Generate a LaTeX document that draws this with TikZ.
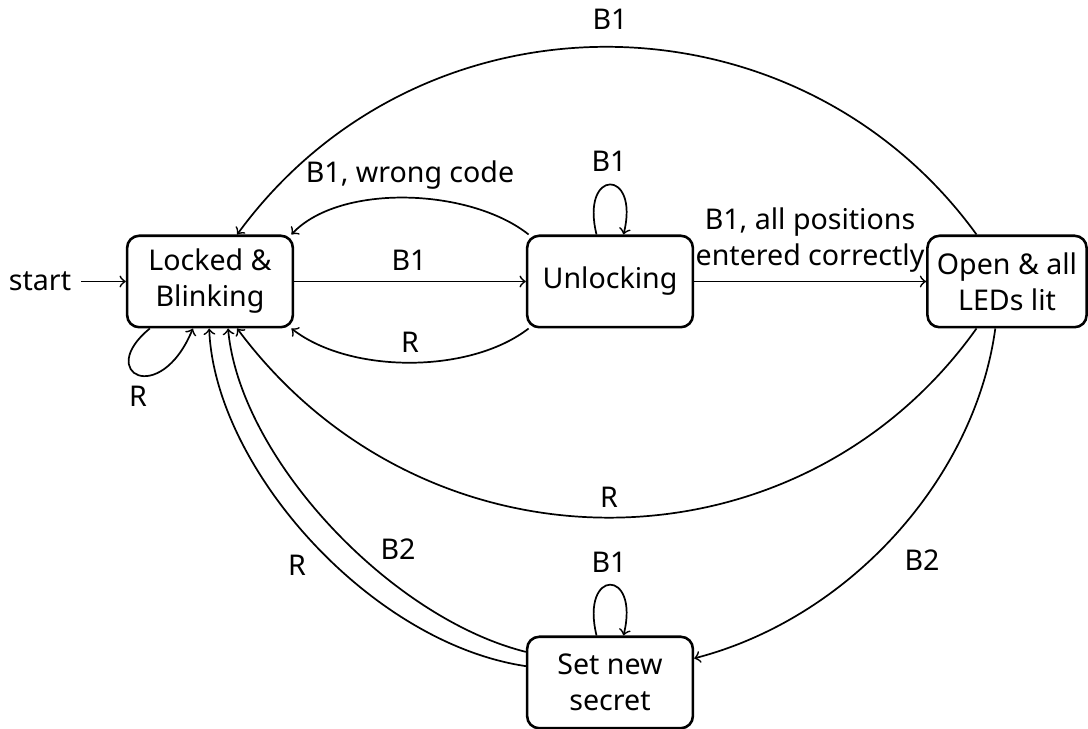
\documentclass[tikz,border=0pt]{standalone}
\usepackage{fontspec}
\setmainfont{Noto Sans}
\begin{document}
\begin{tikzpicture}[x=0.35pt, y=0.35pt,
  txt/.style={font=\fontsize{10pt}{12.6pt}\selectfont},
  state/.style={txt, draw, rectangle, rounded corners=4.2pt, line width=0.9pt,
    minimum width=58pt, minimum height=32pt, align=center, inner sep=0pt},
  edge/.style={->, line width=0.6pt},
  lbl/.style={txt, inner sep=0pt, anchor=base}]
\useasboundingbox (0,0) rectangle (1088,728);

% states
\node[state] (lock) at (210,446.5) {Locked \&\\Blinking};
\node[state] (unl)  at (610,446.5) {Unlocking};
\node[state, minimum width=55.7pt] (open) at (1007,446.5) {Open \& all\\LEDs lit};
\node[state] (sec)  at (610,45.5) {Set new\\secret};
\node[txt] (start) at (40,446.5) {start};

% transitions
\draw[edge] (start) -- (lock);
\draw[edge] (lock) -- (unl);
\draw[edge] (unl) -- (open);
\draw[edge] (unl.150) .. controls (470,540) and (340,545) .. (lock.30);
\draw[edge] (unl.-150) .. controls (470,354) and (350,354) .. (lock.-30);
\draw[edge] (unl.106) .. controls (580,560) and (640,560) .. (unl.74);
\draw[edge] (open.123) .. controls (797,741) and (422,746) .. (lock.60);
\draw[edge] (open.-123) .. controls (798,149) and (426,146) .. (lock.-60);
\draw[edge] (open.-104) .. controls (975,250) and (850,110) .. (sec.16);
\draw[edge] (sec.169) .. controls (370,85) and (215,260) .. (lock.-91);
\draw[edge] (sec.160.5) .. controls (390,110) and (240,270) .. (lock.-69);
\draw[edge] (sec.106) .. controls (580,160) and (640,160) .. (sec.74);
\draw[edge] (lock.-142) .. controls (95,355) and (160,320) .. (lock.-110);

% transition labels
\node[lbl] (tB1a) at (409,457) {B1};
\node[lbl] (tWrong) at (410,545) {B1, wrong code};
\node[lbl] (tRa) at (410,375) {R};
\node[lbl] (tB1loop) at (609,556) {B1};
\node[txt, align=center, inner sep=0pt] (tAll) at (810,488) {B1, all positions\\entered correctly};
\node[lbl] (tB1top) at (610,698) {B1};
\node[lbl] (tRbig) at (609,220) {R};
\node[lbl] (tB2r) at (922,157) {B2};
\node[lbl] (tRout) at (297,152) {R};
\node[lbl] (tB2in) at (398,168) {B2};
\node[lbl] (tB1sec) at (609,155) {B1};
\node[lbl] (tRself) at (138,321) {R};
\end{tikzpicture}
\end{document}
